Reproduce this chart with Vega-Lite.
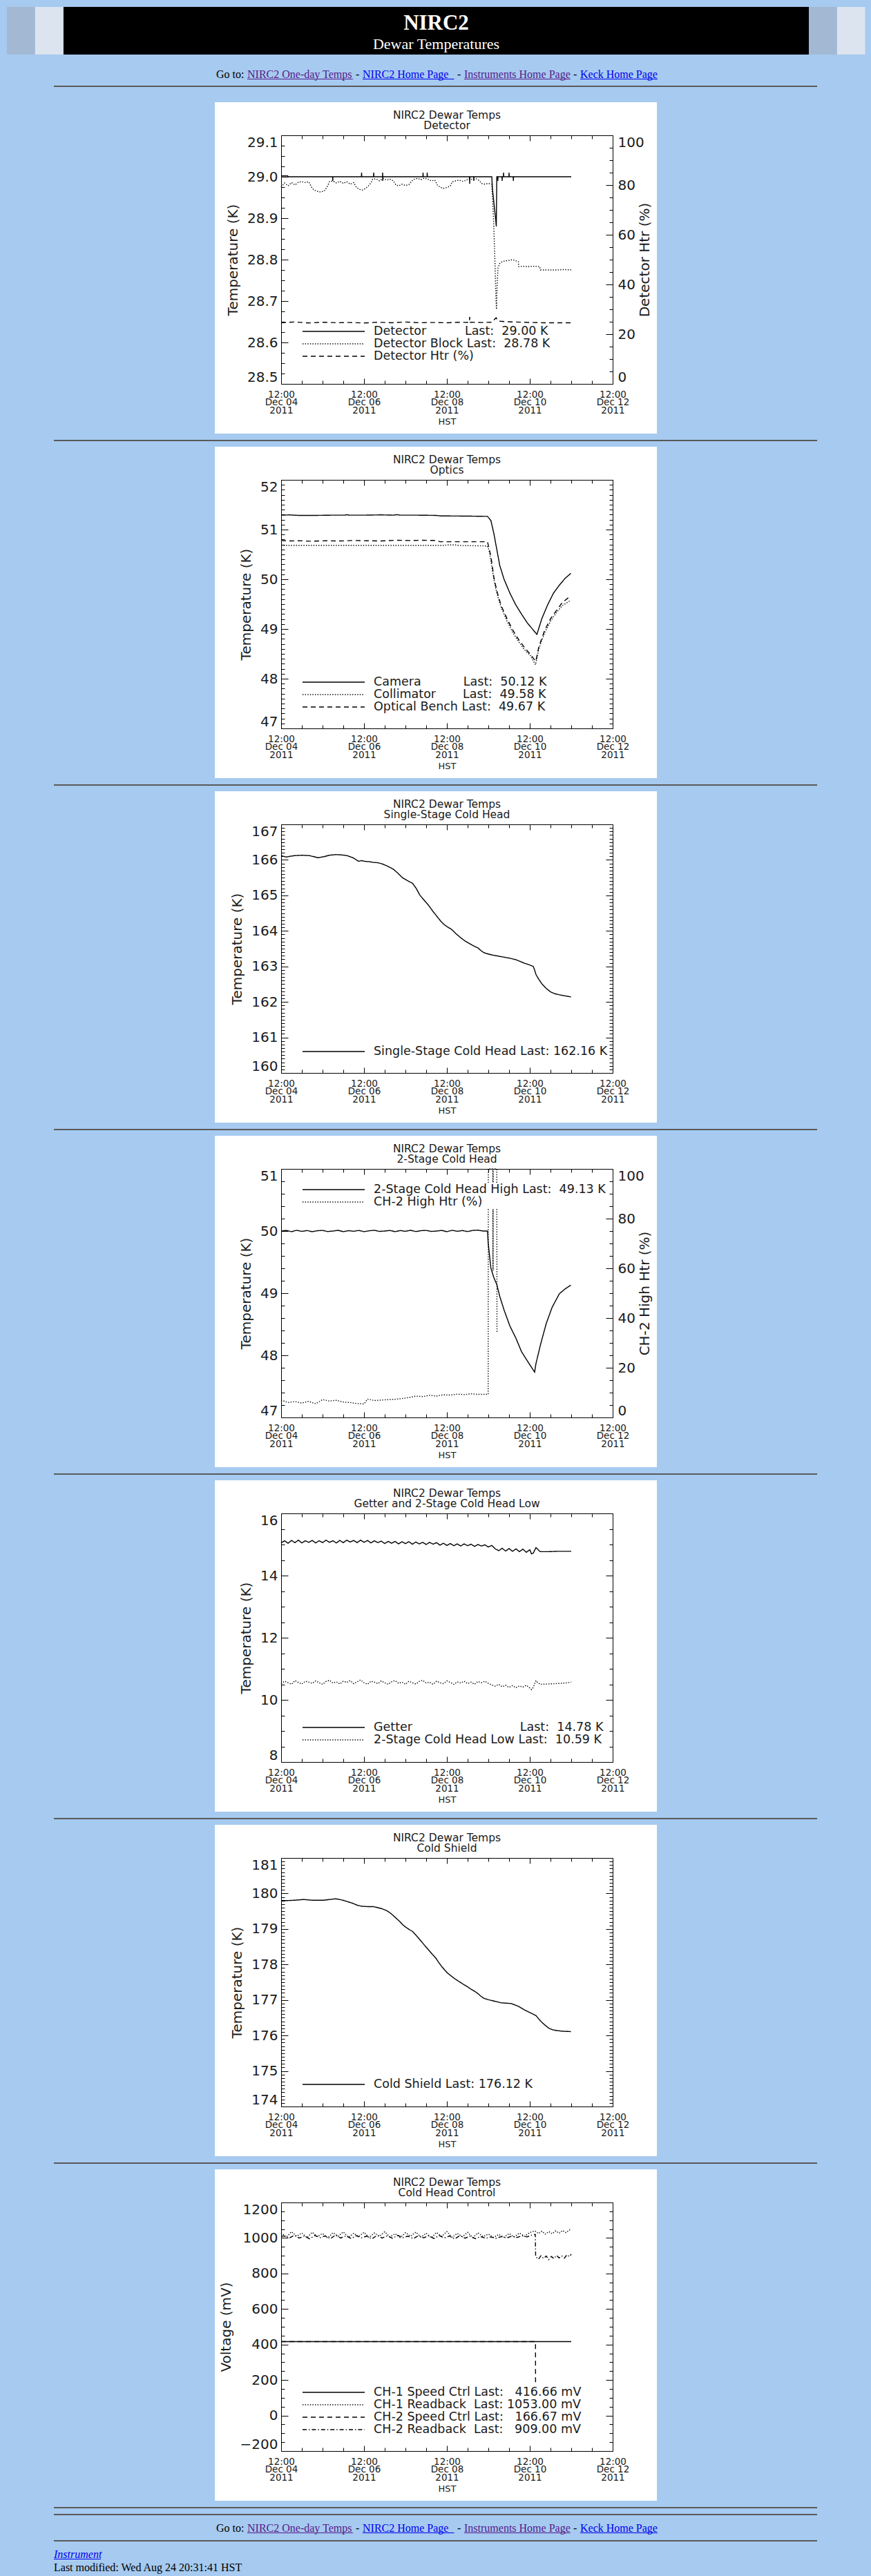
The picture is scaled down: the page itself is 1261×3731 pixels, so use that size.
{
"$schema":"https://vega.github.io/schema/vega-lite/v6.json",
"padding":{"left":10,"right":10,"top":10,"bottom":0},
"bounds":"flush","spacing":0,
"resolve":{"scale":{"strokeDash":"independent"},"legend":{"strokeDash":"independent"}},
"vconcat":[
{"hconcat":[
 {"width":40.5,"height":69,"view":{"fill":"#a3b9d3"},"data":{"values":[]},"mark":"point"},
 {"width":40.5,"height":69,"view":{"fill":"#dbe4ef"},"data":{"values":[]},"mark":"point"},
 {"width":1079,"height":69,"view":{"fill":"black"},"title":{"text":"NIRC2","subtitle":"Dewar Temperatures","font":"Liberation Serif","fontSize":31,"fontWeight":"bold","color":"white","subtitleFont":"Liberation Serif","subtitleFontSize":22,"subtitleColor":"white","subtitlePadding":4,"offset":-66,"dx":0,"anchor":"middle"},"data":{"values":[]},"mark":"point"},
 {"width":40.5,"height":69,"view":{"fill":"#a3b9d3"},"data":{"values":[]},"mark":"point"},
 {"width":40.5,"height":69,"view":{"fill":"#dbe4ef"},"data":{"values":[]},"mark":"point"}
],"spacing":0,"bounds":"flush"},
{"width":1,"height":104,"data":{"values":[]},"mark":"point"},
{"hconcat":[
 {"width":303,"height":1,"data":{"values":[]},"mark":"point"},
 {"width":44.4,"height":1,"title":{"text":"Go to:","anchor":"start","font":"Liberation Serif","fontSize":16,"color":"black","offset":-1.5,"dx":0},"data":{"values":[]},"mark":"point"},
 {"width":152.9,"height":1,"view":{"fill":"#551A8B"},"title":{"text":"NIRC2 One-day Temps","anchor":"start","font":"Liberation Serif","fontSize":16,"color":"#551A8B","offset":-1.5,"dx":0},"data":{"values":[]},"mark":"point"},
 {"width":13.3,"height":1,"title":{"text":"-","anchor":"middle","font":"Liberation Serif","fontSize":16,"color":"black","offset":-1.5,"dx":0},"data":{"values":[]},"mark":"point"},
 {"width":132.4,"height":1,"view":{"fill":"#0000EE"},"title":{"text":"NIRC2 Home Page","anchor":"start","font":"Liberation Serif","fontSize":16,"color":"#0000EE","offset":-1.5,"dx":0},"data":{"values":[]},"mark":"point"},
 {"width":13.3,"height":1,"title":{"text":"-","anchor":"middle","font":"Liberation Serif","fontSize":16,"color":"black","offset":-1.5,"dx":0},"data":{"values":[]},"mark":"point"},
 {"width":153.8,"height":1,"view":{"fill":"#551A8B"},"title":{"text":"Instruments Home Page","anchor":"start","font":"Liberation Serif","fontSize":16,"color":"#551A8B","offset":-1.5,"dx":0},"data":{"values":[]},"mark":"point"},
 {"width":13.3,"height":1,"title":{"text":"-","anchor":"middle","font":"Liberation Serif","fontSize":16,"color":"black","offset":-1.5,"dx":0},"data":{"values":[]},"mark":"point"},
 {"width":112,"height":1,"view":{"fill":"#0000EE"},"title":{"text":"Keck Home Page","anchor":"start","font":"Liberation Serif","fontSize":16,"color":"#0000EE","offset":-1.5,"dx":0},"data":{"values":[]},"mark":"point"}
],"spacing":0,"bounds":"flush"},
{"width":1,"height":10,"data":{"values":[]},"mark":"point"},
{"hconcat":[{"width":68,"height":2,"data":{"values":[]},"mark":"point"},{"width":1105,"height":2,"view":{"fill":"#5a5a5a"},"data":{"values":[]},"mark":"point"}],"spacing":0,"bounds":"flush"},
{"width":1,"height":24,"data":{"values":[]},"mark":"point"},

{"hconcat":[{"width":300.5,"height":480,"data":{"values":[]},"mark":"point"},
{"width":640,"height":480,"view":{"fill":"white"},
 "title":{"text":["NIRC2 Dewar Temps","Detector"]},
 "resolve":{"scale":{"y":"independent"},"axis":{"x":"independent","y":"independent"}},
 "layer":[
  {"data":{"values":[{"h":0,"v":29.002},{"h":4,"v":29.002},{"h":4.1,"v":29.0},{"h":29.8,"v":29.0},{"h":29.9,"v":28.99},{"h":30,"v":29.0},{"h":46.5,"v":29.0},{"h":46.6,"v":29.01},{"h":46.7,"v":29.0},{"h":53.5,"v":29.0},{"h":53.6,"v":29.01},{"h":53.7,"v":29.0},{"h":58.7,"v":29.0},{"h":58.8,"v":29.01},{"h":58.85,"v":28.99},{"h":58.9,"v":29.0},{"h":82.1,"v":29.0},{"h":82.2,"v":29.01},{"h":82.3,"v":29.0},{"h":84.5,"v":29.0},{"h":84.6,"v":29.01},{"h":84.7,"v":29.0},{"h":109.1,"v":29.0},{"h":109.2,"v":28.983},{"h":109.3,"v":29.0},{"h":111.5,"v":29.0},{"h":111.6,"v":28.99},{"h":111.7,"v":29.0},{"h":122,"v":29.0},{"h":122.4,"v":28.97},{"h":123.4,"v":28.93},{"h":124.3,"v":28.895},{"h":124.6,"v":28.88},{"h":124.9,"v":29.0},{"h":125.4,"v":29.0},{"h":125.5,"v":28.99},{"h":125.6,"v":29.0},{"h":127.9,"v":29.0},{"h":128,"v":28.99},{"h":128.1,"v":29.0},{"h":128.7,"v":29.0},{"h":128.8,"v":29.01},{"h":128.9,"v":29.0},{"h":131.9,"v":29.0},{"h":132,"v":29.01},{"h":132.1,"v":29.0},{"h":134.4,"v":29.0},{"h":134.5,"v":28.99},{"h":134.6,"v":29.0},{"h":168,"v":29.0}]},
   "mark":"line",
   "encoding":{
    "x":{"field":"h","type":"quantitative","scale":{"domain":[0,192],"range":[96,576],"nice":false},"axis":{"orient":"bottom","values":[0,48,96,144,192],"tickSize":-8,"labelPadding":16,"labelFontSize":13.5,"labelLineHeight":11.5,"labelFlush":false,"labelExpr":"['12:00', 'Dec ' + (datum.value < 144 ? '0' : '') + (4 + datum.value / 24), '2011']","title":"HST","titleFontSize":13,"titlePadding":4}},
    "y":{"field":"v","type":"quantitative","scale":{"domain":[28.5,29.1],"range":[408,48],"nice":false,"zero":false},"axis":{"orient":"left","values":[28.5,28.6,28.7,28.8,28.9,29.0,29.1],"format":".1f","tickSize":-10,"labelPadding":15,"labelFontSize":20,"labelFlush":true,"title":"Temperature (K)","titleFontSize":20,"titlePadding":10}},
    "strokeDash":{"datum":"Detector\u00a0\u00a0\u00a0\u00a0\u00a0\u00a0\u00a0\u00a0\u00a0\u00a0Last:\u00a0\u00a029.00 K","scale":{"domain":["Detector\u00a0\u00a0\u00a0\u00a0\u00a0\u00a0\u00a0\u00a0\u00a0\u00a0Last:\u00a0\u00a029.00 K","Detector Block Last:\u00a0\u00a028.78 K","Detector Htr (%)"],"range":[[1,0],[1.4,2.2],[7,5]]},"legend":{"title":null,"legendY":322,"zindex":1}}
   }},
  {"data":{"values":[{"h":0,"v":28.975},{"h":2,"v":28.985},{"h":4,"v":28.978},{"h":6,"v":28.986},{"h":8,"v":28.98},{"h":10,"v":28.987},{"h":12,"v":28.988},{"h":14,"v":28.986},{"h":16,"v":28.988},{"h":17.6,"v":28.975},{"h":19,"v":28.968},{"h":21,"v":28.965},{"h":23,"v":28.963},{"h":25,"v":28.966},{"h":26.6,"v":28.975},{"h":28,"v":28.988},{"h":30,"v":28.99},{"h":32,"v":28.985},{"h":34,"v":28.989},{"h":36,"v":28.984},{"h":38,"v":28.988},{"h":40,"v":28.982},{"h":42,"v":28.986},{"h":43.5,"v":28.975},{"h":45,"v":28.97},{"h":47,"v":28.968},{"h":49,"v":28.972},{"h":50.5,"v":28.978},{"h":52,"v":28.985},{"h":53,"v":28.994},{"h":55,"v":28.995},{"h":57,"v":28.99},{"h":59,"v":28.996},{"h":61,"v":28.992},{"h":63,"v":28.994},{"h":65,"v":28.99},{"h":66.5,"v":28.98},{"h":68,"v":28.978},{"h":70,"v":28.982},{"h":72,"v":28.979},{"h":74,"v":28.981},{"h":75.8,"v":28.99},{"h":77,"v":28.994},{"h":79,"v":28.996},{"h":81,"v":28.993},{"h":83,"v":28.997},{"h":85,"v":28.994},{"h":87,"v":28.99},{"h":89,"v":28.992},{"h":90.5,"v":28.98},{"h":92,"v":28.975},{"h":94,"v":28.972},{"h":96,"v":28.974},{"h":98,"v":28.978},{"h":99,"v":28.988},{"h":101,"v":28.99},{"h":103,"v":28.992},{"h":105,"v":28.989},{"h":107,"v":28.991},{"h":109,"v":28.996},{"h":111,"v":28.993},{"h":113,"v":28.995},{"h":115,"v":28.99},{"h":116,"v":28.984},{"h":118,"v":28.982},{"h":120,"v":28.984},{"h":122,"v":28.982},{"h":123,"v":28.9},{"h":123.8,"v":28.8},{"h":124.4,"v":28.71},{"h":124.7,"v":28.68},{"h":125.1,"v":28.74},{"h":125.6,"v":28.78},{"h":126.5,"v":28.79},{"h":128,"v":28.795},{"h":130,"v":28.797},{"h":132,"v":28.798},{"h":134,"v":28.8},{"h":136,"v":28.797},{"h":137.4,"v":28.795},{"h":137.6,"v":28.783},{"h":140,"v":28.784},{"h":143,"v":28.783},{"h":146,"v":28.784},{"h":149.8,"v":28.783},{"h":150.2,"v":28.775},{"h":155,"v":28.775},{"h":160,"v":28.775},{"h":164,"v":28.776},{"h":168,"v":28.775}]},
   "mark":"line",
   "encoding":{
    "x":{"field":"h","type":"quantitative","scale":{"domain":[0,192],"range":[96,576],"nice":false},"axis":{"orient":"bottom","values":[12,24,36,60,72,84,108,120,132,156,168,180],"tickSize":-5,"labels":false,"domain":false,"title":null}},
    "y":{"field":"v","type":"quantitative","scale":{"domain":[28.5,29.1],"range":[408,48],"nice":false,"zero":false},"axis":{"orient":"left","values":[28.525,28.55,28.575,28.625,28.65,28.675,28.725,28.75,28.775,28.825,28.85,28.875,28.925,28.95,28.975,29.025,29.05,29.075],"tickSize":-5,"labels":false,"domain":false,"title":null}},
    "strokeDash":{"datum":"Detector Block Last:\u00a0\u00a028.78 K","scale":{"domain":["Detector\u00a0\u00a0\u00a0\u00a0\u00a0\u00a0\u00a0\u00a0\u00a0\u00a0Last:\u00a0\u00a029.00 K","Detector Block Last:\u00a0\u00a028.78 K","Detector Htr (%)"],"range":[[1,0],[1.4,2.2],[7,5]]}}
   }},
  {"data":{"values":[{"h":0,"v":24.6},{"h":8,"v":24.9},{"h":16,"v":24.5},{"h":24,"v":24.8},{"h":32,"v":24.6},{"h":40,"v":24.7},{"h":48,"v":24.5},{"h":56,"v":24.8},{"h":64,"v":24.6},{"h":72,"v":24.9},{"h":80,"v":24.6},{"h":88,"v":24.7},{"h":96,"v":24.6},{"h":104,"v":24.8},{"h":109,"v":24.7},{"h":109.2,"v":26.9},{"h":109.5,"v":24.8},{"h":116,"v":24.7},{"h":122,"v":24.8},{"h":123.5,"v":25.9},{"h":124.5,"v":26.6},{"h":125.5,"v":25.4},{"h":127,"v":25.2},{"h":130,"v":25.0},{"h":136,"v":24.9},{"h":144,"v":24.7},{"h":152,"v":24.6},{"h":160,"v":24.6},{"h":168,"v":24.6}]},
   "mark":"line",
   "encoding":{
    "x":{"field":"h","type":"quantitative","scale":{"domain":[0,192],"range":[96,576],"nice":false},"axis":{"orient":"top","values":[0,48,96,144,192],"tickSize":-8,"labels":false,"title":null}},
    "y":{"field":"v","type":"quantitative","scale":{"domain":[0,100],"range":[408,48],"nice":false,"zero":false},"axis":{"orient":"right","values":[0,20,40,60,80,100],"format":"d","tickSize":-10,"labelPadding":17,"labelFontSize":20,"labelFlush":true,"title":"Detector Htr (%)","titleFontSize":20,"titlePadding":-9,"titleAngle":270,"titleBaseline":"top"}},
    "strokeDash":{"datum":"Detector Htr (%)","scale":{"domain":["Detector\u00a0\u00a0\u00a0\u00a0\u00a0\u00a0\u00a0\u00a0\u00a0\u00a0Last:\u00a0\u00a029.00 K","Detector Block Last:\u00a0\u00a028.78 K","Detector Htr (%)"],"range":[[1,0],[1.4,2.2],[7,5]]}}
   }},
  {"data":{"values":[]},"mark":"line",
   "encoding":{
    "x":{"field":"h","type":"quantitative","scale":{"domain":[0,192],"range":[96,576],"nice":false},"axis":{"orient":"top","values":[12,24,36,60,72,84,108,120,132,156,168,180],"tickSize":-5,"labels":false,"domain":false,"title":null}},
    "y":{"field":"v","type":"quantitative","scale":{"domain":[0,100],"range":[408,48],"nice":false,"zero":false},"axis":{"orient":"right","tickCount":20,"tickSize":-5,"labels":false,"domain":false,"title":null}}
   }}
 ]}],"spacing":0,"bounds":"flush","resolve":{"scale":{"strokeDash":"independent"},"legend":{"strokeDash":"independent"}}},

{"width":1,"height":488.5,"data":{"values":[]},"mark":"point"},
{"hconcat":[{"width":68,"height":2,"data":{"values":[]},"mark":"point"},{"width":1105,"height":2,"view":{"fill":"#5a5a5a"},"data":{"values":[]},"mark":"point"}],"spacing":0,"bounds":"flush"},
{"width":1,"height":10,"data":{"values":[]},"mark":"point"},

{"hconcat":[{"width":300.5,"height":480,"data":{"values":[]},"mark":"point"},
{"width":640,"height":480,"view":{"fill":"white"},
 "title":{"text":["NIRC2 Dewar Temps","Optics"]},
 "resolve":{"scale":{"y":"independent"},"axis":{"x":"independent","y":"independent"}},
 "layer":[
  {"data":{"values":[{"h":0,"v":51.29},{"h":5,"v":51.295},{"h":10,"v":51.285},{"h":20,"v":51.285},{"h":30,"v":51.29},{"h":37,"v":51.29},{"h":38,"v":51.3},{"h":39.5,"v":51.29},{"h":48,"v":51.29},{"h":58,"v":51.295},{"h":65,"v":51.29},{"h":67,"v":51.3},{"h":69,"v":51.29},{"h":78,"v":51.29},{"h":90,"v":51.285},{"h":92,"v":51.275},{"h":110,"v":51.27},{"h":119.5,"v":51.265},{"h":121.5,"v":51.18},{"h":123.2,"v":50.92},{"h":124.9,"v":50.6},{"h":126.6,"v":50.28},{"h":129.1,"v":50.0},{"h":132.5,"v":49.72},{"h":135.8,"v":49.49},{"h":139.2,"v":49.3},{"h":142.6,"v":49.12},{"h":146,"v":48.98},{"h":148.1,"v":48.89},{"h":151,"v":49.21},{"h":154.4,"v":49.49},{"h":157.7,"v":49.72},{"h":161.1,"v":49.88},{"h":164.5,"v":50.02},{"h":167.8,"v":50.12}]},
   "mark":"line",
   "encoding":{
    "x":{"field":"h","type":"quantitative","scale":{"domain":[0,192],"range":[96,576],"nice":false},"axis":{"orient":"bottom","values":[0,48,96,144,192],"tickSize":-8,"labelPadding":16,"labelFontSize":13.5,"labelLineHeight":11.5,"labelFlush":false,"labelExpr":"['12:00', 'Dec ' + (datum.value < 144 ? '0' : '') + (4 + datum.value / 24), '2011']","title":"HST","titleFontSize":13,"titlePadding":4}},
    "y":{"field":"v","type":"quantitative","scale":{"domain":[47,52],"range":[408,48],"nice":false,"zero":false},"axis":{"orient":"left","values":[47,48,49,50,51,52],"format":"d","tickSize":-10,"labelPadding":15,"labelFontSize":20,"labelFlush":true,"title":"Temperature (K)","titleFontSize":20,"titlePadding":10}},
    "strokeDash":{"datum":"Camera\u00a0\u00a0\u00a0\u00a0\u00a0\u00a0\u00a0\u00a0\u00a0\u00a0\u00a0Last:\u00a0\u00a050.12 K","scale":{"domain":["Camera\u00a0\u00a0\u00a0\u00a0\u00a0\u00a0\u00a0\u00a0\u00a0\u00a0\u00a0Last:\u00a0\u00a050.12 K","Collimator\u00a0\u00a0\u00a0\u00a0\u00a0\u00a0\u00a0Last:\u00a0\u00a049.58 K","Optical Bench Last:\u00a0\u00a049.67 K"],"range":[[1,0],[1.4,2.2],[7,5]]},"legend":{"title":null,"legendY":331,"zindex":1}}
   }},
  {"data":{"values":[{"h":0,"v":50.68},{"h":30,"v":50.68},{"h":60,"v":50.68},{"h":94,"v":50.68},{"h":96,"v":50.69},{"h":101,"v":50.69},{"h":103,"v":50.68},{"h":119.3,"v":50.67},{"h":120.3,"v":50.6},{"h":121.5,"v":50.37},{"h":123.2,"v":50.0},{"h":124.9,"v":49.72},{"h":127.4,"v":49.44},{"h":130.8,"v":49.16},{"h":134.1,"v":48.93},{"h":137.5,"v":48.75},{"h":140.9,"v":48.58},{"h":144.3,"v":48.47},{"h":146.8,"v":48.31},{"h":147.3,"v":48.28},{"h":149.3,"v":48.61},{"h":152.7,"v":48.93},{"h":156.1,"v":49.16},{"h":159.4,"v":49.33},{"h":162.8,"v":49.47},{"h":167.8,"v":49.58}]},
   "mark":"line",
   "encoding":{
    "x":{"field":"h","type":"quantitative","scale":{"domain":[0,192],"range":[96,576],"nice":false},"axis":{"orient":"bottom","values":[12,24,36,60,72,84,108,120,132,156,168,180],"tickSize":-5,"labels":false,"domain":false,"title":null}},
    "y":{"field":"v","type":"quantitative","scale":{"domain":[47,52],"range":[408,48],"nice":false,"zero":false},"axis":{"orient":"left","tickCount":50,"tickSize":-5,"labels":false,"domain":false,"title":null}},
    "strokeDash":{"datum":"Collimator\u00a0\u00a0\u00a0\u00a0\u00a0\u00a0\u00a0Last:\u00a0\u00a049.58 K","scale":{"domain":["Camera\u00a0\u00a0\u00a0\u00a0\u00a0\u00a0\u00a0\u00a0\u00a0\u00a0\u00a0Last:\u00a0\u00a050.12 K","Collimator\u00a0\u00a0\u00a0\u00a0\u00a0\u00a0\u00a0Last:\u00a0\u00a049.58 K","Optical Bench Last:\u00a0\u00a049.67 K"],"range":[[1,0],[1.4,2.2],[7,5]]}}
   }},
  {"data":{"values":[{"h":0,"v":50.78},{"h":5,"v":50.77},{"h":10,"v":50.775},{"h":18,"v":50.765},{"h":26,"v":50.775},{"h":34,"v":50.77},{"h":42,"v":50.78},{"h":50,"v":50.775},{"h":58,"v":50.77},{"h":66,"v":50.785},{"h":74,"v":50.78},{"h":82,"v":50.785},{"h":90,"v":50.78},{"h":92,"v":50.755},{"h":105,"v":50.755},{"h":119.5,"v":50.755},{"h":121.5,"v":50.46},{"h":123.2,"v":50.04},{"h":124.9,"v":49.77},{"h":127.4,"v":49.47},{"h":130.8,"v":49.21},{"h":134.1,"v":48.98},{"h":137.5,"v":48.79},{"h":140.9,"v":48.63},{"h":144.3,"v":48.49},{"h":146.8,"v":48.38},{"h":147.5,"v":48.35},{"h":149.3,"v":48.65},{"h":152.7,"v":48.98},{"h":156.1,"v":49.21},{"h":159.4,"v":49.37},{"h":162.8,"v":49.53},{"h":167.8,"v":49.67}]},
   "mark":"line",
   "encoding":{
    "x":{"field":"h","type":"quantitative","scale":{"domain":[0,192],"range":[96,576],"nice":false},"axis":{"orient":"top","values":[0,48,96,144,192],"tickSize":-8,"labels":false,"title":null}},
    "y":{"field":"v","type":"quantitative","scale":{"domain":[47,52],"range":[408,48],"nice":false,"zero":false},"axis":{"orient":"right","values":[47,48,49,50,51,52],"tickSize":-10,"labels":false,"title":null}},
    "strokeDash":{"datum":"Optical Bench Last:\u00a0\u00a049.67 K","scale":{"domain":["Camera\u00a0\u00a0\u00a0\u00a0\u00a0\u00a0\u00a0\u00a0\u00a0\u00a0\u00a0Last:\u00a0\u00a050.12 K","Collimator\u00a0\u00a0\u00a0\u00a0\u00a0\u00a0\u00a0Last:\u00a0\u00a049.58 K","Optical Bench Last:\u00a0\u00a049.67 K"],"range":[[1,0],[1.4,2.2],[7,5]]}}
   }},
  {"data":{"values":[]},"mark":"line",
   "encoding":{
    "x":{"field":"h","type":"quantitative","scale":{"domain":[0,192],"range":[96,576],"nice":false},"axis":{"orient":"top","values":[12,24,36,60,72,84,108,120,132,156,168,180],"tickSize":-5,"labels":false,"domain":false,"title":null}},
    "y":{"field":"v","type":"quantitative","scale":{"domain":[47,52],"range":[408,48],"nice":false,"zero":false},"axis":{"orient":"right","tickCount":50,"tickSize":-5,"labels":false,"domain":false,"title":null}}
   }}
 ]}],"spacing":0,"bounds":"flush","resolve":{"scale":{"strokeDash":"independent"},"legend":{"strokeDash":"independent"}}},

{"width":1,"height":488.5,"data":{"values":[]},"mark":"point"},
{"hconcat":[{"width":68,"height":2,"data":{"values":[]},"mark":"point"},{"width":1105,"height":2,"view":{"fill":"#5a5a5a"},"data":{"values":[]},"mark":"point"}],"spacing":0,"bounds":"flush"},
{"width":1,"height":10,"data":{"values":[]},"mark":"point"},

{"hconcat":[{"width":300.5,"height":480,"data":{"values":[]},"mark":"point"},
{"width":640,"height":480,"view":{"fill":"white"},
 "title":{"text":["NIRC2 Dewar Temps","Single-Stage Cold Head"]},
 "resolve":{"scale":{"y":"independent"},"axis":{"x":"independent","y":"independent"}},
 "layer":[
  {"data":{"values":[{"h":0,"v":166.12},{"h":2.9,"v":166.08},{"h":5,"v":166.1},{"h":7.9,"v":166.12},{"h":12,"v":166.13},{"h":16.3,"v":166.12},{"h":19,"v":166.09},{"h":21.4,"v":166.06},{"h":24.7,"v":166.09},{"h":28,"v":166.13},{"h":31.5,"v":166.15},{"h":35,"v":166.14},{"h":38.2,"v":166.12},{"h":41.6,"v":166.06},{"h":44.9,"v":165.96},{"h":46.5,"v":165.98},{"h":48.3,"v":165.96},{"h":51,"v":165.95},{"h":53.4,"v":165.93},{"h":56,"v":165.92},{"h":58.4,"v":165.89},{"h":61.8,"v":165.82},{"h":65.2,"v":165.73},{"h":67.7,"v":165.62},{"h":70.2,"v":165.5},{"h":73,"v":165.42},{"h":76.1,"v":165.34},{"h":78.2,"v":165.2},{"h":80.3,"v":165.01},{"h":82.9,"v":164.86},{"h":85.4,"v":164.72},{"h":87.9,"v":164.55},{"h":90.4,"v":164.4},{"h":92.5,"v":164.27},{"h":94.6,"v":164.17},{"h":96.7,"v":164.1},{"h":98.8,"v":164.04},{"h":101.3,"v":163.92},{"h":103.9,"v":163.81},{"h":106.4,"v":163.72},{"h":108.9,"v":163.65},{"h":111.4,"v":163.58},{"h":114,"v":163.52},{"h":115.6,"v":163.45},{"h":117.3,"v":163.39},{"h":119.8,"v":163.35},{"h":122.4,"v":163.32},{"h":125.7,"v":163.29},{"h":129.1,"v":163.26},{"h":132.5,"v":163.23},{"h":135.9,"v":163.19},{"h":138.4,"v":163.14},{"h":140.9,"v":163.09},{"h":143.4,"v":163.05},{"h":146,"v":163.0},{"h":146.8,"v":162.9},{"h":147.6,"v":162.77},{"h":149.3,"v":162.63},{"h":151,"v":162.51},{"h":153.5,"v":162.38},{"h":156.1,"v":162.28},{"h":158.6,"v":162.23},{"h":161.1,"v":162.2},{"h":164.5,"v":162.17},{"h":167.8,"v":162.14}]},
   "mark":"line",
   "encoding":{
    "x":{"field":"h","type":"quantitative","scale":{"domain":[0,192],"range":[96,576],"nice":false},"axis":{"orient":"bottom","values":[0,48,96,144,192],"tickSize":-8,"labelPadding":16,"labelFontSize":13.5,"labelLineHeight":11.5,"labelFlush":false,"labelExpr":"['12:00', 'Dec ' + (datum.value < 144 ? '0' : '') + (4 + datum.value / 24), '2011']","title":"HST","titleFontSize":13,"titlePadding":4}},
    "y":{"field":"v","type":"quantitative","scale":{"domain":[160,167],"range":[408,48],"nice":false,"zero":false},"axis":{"orient":"left","values":[160,161,162,163,164,165,166,167],"format":"d","tickSize":-10,"labelPadding":15,"labelFontSize":20,"labelFlush":true,"title":"Temperature (K)","titleFontSize":20,"titlePadding":10}},
    "strokeDash":{"datum":"Single-Stage Cold Head Last: 162.16 K","scale":{"domain":["Single-Stage Cold Head Last: 162.16 K"],"range":[[1,0]]},"legend":{"title":null,"legendY":367,"zindex":1}}
   }},
  {"data":{"values":[]},"mark":"line",
   "encoding":{
    "x":{"field":"h","type":"quantitative","scale":{"domain":[0,192],"range":[96,576],"nice":false},"axis":{"orient":"bottom","values":[12,24,36,60,72,84,108,120,132,156,168,180],"tickSize":-5,"labels":false,"domain":false,"title":null}},
    "y":{"field":"v","type":"quantitative","scale":{"domain":[160,167],"range":[408,48],"nice":false,"zero":false},"axis":{"orient":"left","tickCount":70,"tickSize":-5,"labels":false,"domain":false,"title":null}}
   }},
  {"data":{"values":[]},"mark":"line",
   "encoding":{
    "x":{"field":"h","type":"quantitative","scale":{"domain":[0,192],"range":[96,576],"nice":false},"axis":{"orient":"top","values":[0,48,96,144,192],"tickSize":-8,"labels":false,"title":null}},
    "y":{"field":"v","type":"quantitative","scale":{"domain":[160,167],"range":[408,48],"nice":false,"zero":false},"axis":{"orient":"right","values":[160,161,162,163,164,165,166,167],"tickSize":-10,"labels":false,"title":null}}
   }},
  {"data":{"values":[]},"mark":"line",
   "encoding":{
    "x":{"field":"h","type":"quantitative","scale":{"domain":[0,192],"range":[96,576],"nice":false},"axis":{"orient":"top","values":[12,24,36,60,72,84,108,120,132,156,168,180],"tickSize":-5,"labels":false,"domain":false,"title":null}},
    "y":{"field":"v","type":"quantitative","scale":{"domain":[160,167],"range":[408,48],"nice":false,"zero":false},"axis":{"orient":"right","tickCount":70,"tickSize":-5,"labels":false,"domain":false,"title":null}}
   }}
 ]}],"spacing":0,"bounds":"flush","resolve":{"scale":{"strokeDash":"independent"},"legend":{"strokeDash":"independent"}}},

{"width":1,"height":488.5,"data":{"values":[]},"mark":"point"},
{"hconcat":[{"width":68,"height":2,"data":{"values":[]},"mark":"point"},{"width":1105,"height":2,"view":{"fill":"#5a5a5a"},"data":{"values":[]},"mark":"point"}],"spacing":0,"bounds":"flush"},
{"width":1,"height":10,"data":{"values":[]},"mark":"point"},

{"hconcat":[{"width":300.5,"height":480,"data":{"values":[]},"mark":"point"},
{"width":640,"height":480,"view":{"fill":"white"},
 "title":{"text":["NIRC2 Dewar Temps","2-Stage Cold Head"]},
 "resolve":{"scale":{"y":"independent"},"axis":{"x":"independent","y":"independent"}},
 "layer":[
  {"data":{"values":[{"h":0,"v":50.0},{"h":3,"v":50.01},{"h":6,"v":49.99},{"h":9,"v":50.012},{"h":12,"v":49.995},{"h":15,"v":50.008},{"h":18,"v":49.99},{"h":21,"v":50.005},{"h":24,"v":50.01},{"h":27,"v":49.992},{"h":30,"v":50.0},{"h":33,"v":50.012},{"h":36,"v":49.99},{"h":39,"v":50.006},{"h":42,"v":49.996},{"h":45,"v":50.01},{"h":48,"v":49.99},{"h":51,"v":50.004},{"h":54,"v":50.012},{"h":57,"v":49.994},{"h":60,"v":50.0},{"h":63,"v":50.01},{"h":66,"v":49.99},{"h":69,"v":50.008},{"h":72,"v":49.996},{"h":75,"v":50.012},{"h":78,"v":49.992},{"h":81,"v":50.006},{"h":84,"v":50.01},{"h":87,"v":49.994},{"h":90,"v":50.0},{"h":93,"v":50.01},{"h":96,"v":49.99},{"h":99,"v":50.012},{"h":102,"v":49.996},{"h":105,"v":50.008},{"h":108,"v":49.992},{"h":111,"v":50.01},{"h":114,"v":50.014},{"h":117,"v":50.0},{"h":119.5,"v":50.0},{"h":119.9,"v":49.81},{"h":121.5,"v":49.4},{"h":123.2,"v":49.25},{"h":124.9,"v":49.14},{"h":126.6,"v":48.95},{"h":129.1,"v":48.73},{"h":132.5,"v":48.47},{"h":135.9,"v":48.28},{"h":139.2,"v":48.06},{"h":142.6,"v":47.91},{"h":146.8,"v":47.73},{"h":147.6,"v":47.87},{"h":150.2,"v":48.17},{"h":153.5,"v":48.51},{"h":156.9,"v":48.77},{"h":161.1,"v":48.99},{"h":164.5,"v":49.07},{"h":167.8,"v":49.13}]},
   "mark":"line",
   "encoding":{
    "x":{"field":"h","type":"quantitative","scale":{"domain":[0,192],"range":[96,576],"nice":false},"axis":{"orient":"bottom","values":[0,48,96,144,192],"tickSize":-8,"labelPadding":16,"labelFontSize":13.5,"labelLineHeight":11.5,"labelFlush":false,"labelExpr":"['12:00', 'Dec ' + (datum.value < 144 ? '0' : '') + (4 + datum.value / 24), '2011']","title":"HST","titleFontSize":13,"titlePadding":4}},
    "y":{"field":"v","type":"quantitative","scale":{"domain":[47,51],"range":[408,48],"nice":false,"zero":false},"axis":{"orient":"left","values":[47,48,49,50,51],"format":"d","tickSize":-10,"labelPadding":15,"labelFontSize":20,"labelFlush":true,"title":"Temperature (K)","titleFontSize":20,"titlePadding":10}},
    "strokeDash":{"datum":"2-Stage Cold Head High Last:\u00a0\u00a049.13 K","scale":{"domain":["2-Stage Cold Head High Last:\u00a0\u00a049.13 K","CH-2 High Htr (%)"],"range":[[1,0],[1.4,2.2]]},"legend":{"title":null,"legendY":68,"zindex":1}}
   }},
  {"data":{"values":[]},"mark":"line",
   "encoding":{
    "x":{"field":"h","type":"quantitative","scale":{"domain":[0,192],"range":[96,576],"nice":false},"axis":{"orient":"bottom","values":[12,24,36,60,72,84,108,120,132,156,168,180],"tickSize":-5,"labels":false,"domain":false,"title":null}},
    "y":{"field":"v","type":"quantitative","scale":{"domain":[47,51],"range":[408,48],"nice":false,"zero":false},"axis":{"orient":"left","tickCount":20,"tickSize":-5,"labels":false,"domain":false,"title":null}}
   }},
  {"data":{"values":[{"h":0,"v":7.0},{"h":4,"v":6.0},{"h":8,"v":6.4},{"h":12,"v":5.8},{"h":16,"v":6.5},{"h":20,"v":5.5},{"h":24,"v":7.2},{"h":28,"v":6.6},{"h":32,"v":6.9},{"h":36,"v":6.2},{"h":40,"v":6.0},{"h":44,"v":5.6},{"h":48,"v":5.4},{"h":50,"v":7.4},{"h":54,"v":6.8},{"h":58,"v":7.0},{"h":62,"v":7.2},{"h":66,"v":7.3},{"h":70,"v":7.6},{"h":74,"v":8.0},{"h":78,"v":8.6},{"h":82,"v":8.4},{"h":86,"v":8.9},{"h":90,"v":8.6},{"h":94,"v":9.1},{"h":98,"v":9.0},{"h":102,"v":9.4},{"h":106,"v":9.2},{"h":110,"v":9.5},{"h":114,"v":9.3},{"h":119.9,"v":9.3},{"h":120,"v":100},{"h":122.6,"v":100},{"h":122.7,"v":59},{"h":122.8,"v":100},{"h":124.9,"v":100},{"h":125,"v":34}]},
   "mark":"line",
   "encoding":{
    "x":{"field":"h","type":"quantitative","scale":{"domain":[0,192],"range":[96,576],"nice":false},"axis":{"orient":"top","values":[0,48,96,144,192],"tickSize":-8,"labels":false,"title":null}},
    "y":{"field":"v","type":"quantitative","scale":{"domain":[0,100],"range":[408,48],"nice":false,"zero":false},"axis":{"orient":"right","values":[0,20,40,60,80,100],"format":"d","tickSize":-10,"labelPadding":17,"labelFontSize":20,"labelFlush":true,"title":"CH-2 High Htr (%)","titleFontSize":20,"titlePadding":-9,"titleAngle":270,"titleBaseline":"top"}},
    "strokeDash":{"datum":"CH-2 High Htr (%)","scale":{"domain":["2-Stage Cold Head High Last:\u00a0\u00a049.13 K","CH-2 High Htr (%)"],"range":[[1,0],[1.4,2.2]]}}
   }},
  {"data":{"values":[]},"mark":"line",
   "encoding":{
    "x":{"field":"h","type":"quantitative","scale":{"domain":[0,192],"range":[96,576],"nice":false},"axis":{"orient":"top","values":[12,24,36,60,72,84,108,120,132,156,168,180],"tickSize":-5,"labels":false,"domain":false,"title":null}},
    "y":{"field":"v","type":"quantitative","scale":{"domain":[0,100],"range":[408,48],"nice":false,"zero":false},"axis":{"orient":"right","tickCount":20,"tickSize":-5,"labels":false,"domain":false,"title":null}}
   }}
 ]}],"spacing":0,"bounds":"flush","resolve":{"scale":{"strokeDash":"independent"},"legend":{"strokeDash":"independent"}}},

{"width":1,"height":488.5,"data":{"values":[]},"mark":"point"},
{"hconcat":[{"width":68,"height":2,"data":{"values":[]},"mark":"point"},{"width":1105,"height":2,"view":{"fill":"#5a5a5a"},"data":{"values":[]},"mark":"point"}],"spacing":0,"bounds":"flush"},
{"width":1,"height":10,"data":{"values":[]},"mark":"point"},

{"hconcat":[{"width":300.5,"height":480,"data":{"values":[]},"mark":"point"},
{"width":640,"height":480,"view":{"fill":"white"},
 "title":{"text":["NIRC2 Dewar Temps","Getter and 2-Stage Cold Head Low"]},
 "resolve":{"scale":{"y":"independent"},"axis":{"x":"independent","y":"independent"}},
 "layer":[
  {"data":{"values":[{"h":0,"v":15.05},{"h":2,"v":15.12},{"h":4,"v":15.04},{"h":6,"v":15.13},{"h":8,"v":15.06},{"h":10,"v":15.14},{"h":12,"v":15.05},{"h":14,"v":15.12},{"h":16,"v":15.07},{"h":18,"v":15.13},{"h":20,"v":15.05},{"h":22,"v":15.12},{"h":24,"v":15.06},{"h":26,"v":15.14},{"h":28,"v":15.07},{"h":30,"v":15.12},{"h":32,"v":15.05},{"h":34,"v":15.13},{"h":36,"v":15.06},{"h":38,"v":15.14},{"h":40,"v":15.08},{"h":42,"v":15.13},{"h":44,"v":15.06},{"h":46,"v":15.14},{"h":48,"v":15.07},{"h":50,"v":15.13},{"h":52,"v":15.05},{"h":54,"v":15.12},{"h":56,"v":15.06},{"h":58,"v":15.11},{"h":60,"v":15.03},{"h":62,"v":15.1},{"h":64,"v":15.04},{"h":66,"v":15.1},{"h":68,"v":15.02},{"h":70,"v":15.09},{"h":72,"v":15.03},{"h":74,"v":15.09},{"h":76,"v":15.01},{"h":78,"v":15.08},{"h":80,"v":15.02},{"h":82,"v":15.07},{"h":84,"v":15.0},{"h":86,"v":15.07},{"h":88,"v":15.01},{"h":90,"v":15.06},{"h":92,"v":14.98},{"h":94,"v":15.04},{"h":96,"v":14.97},{"h":98,"v":15.03},{"h":100,"v":14.96},{"h":102,"v":15.02},{"h":104,"v":14.95},{"h":106,"v":15.02},{"h":108,"v":14.96},{"h":110,"v":15.01},{"h":112,"v":14.94},{"h":114,"v":15.0},{"h":116,"v":14.95},{"h":118,"v":14.99},{"h":120,"v":14.92},{"h":122,"v":14.97},{"h":124,"v":14.86},{"h":126,"v":14.8},{"h":128,"v":14.88},{"h":130,"v":14.79},{"h":132,"v":14.87},{"h":134,"v":14.78},{"h":136,"v":14.86},{"h":138,"v":14.77},{"h":140,"v":14.85},{"h":142,"v":14.75},{"h":144,"v":14.83},{"h":145,"v":14.7},{"h":146,"v":14.72},{"h":147.6,"v":14.9},{"h":148.5,"v":14.85},{"h":150,"v":14.77},{"h":155,"v":14.77},{"h":160,"v":14.78},{"h":168,"v":14.78}]},
   "mark":"line",
   "encoding":{
    "x":{"field":"h","type":"quantitative","scale":{"domain":[0,192],"range":[96,576],"nice":false},"axis":{"orient":"bottom","values":[0,48,96,144,192],"tickSize":-8,"labelPadding":16,"labelFontSize":13.5,"labelLineHeight":11.5,"labelFlush":false,"labelExpr":"['12:00', 'Dec ' + (datum.value < 144 ? '0' : '') + (4 + datum.value / 24), '2011']","title":"HST","titleFontSize":13,"titlePadding":4}},
    "y":{"field":"v","type":"quantitative","scale":{"domain":[8,16],"range":[408,48],"nice":false,"zero":false},"axis":{"orient":"left","values":[8,10,12,14,16],"format":"d","tickSize":-10,"labelPadding":15,"labelFontSize":20,"labelFlush":true,"title":"Temperature (K)","titleFontSize":20,"titlePadding":10}},
    "strokeDash":{"datum":"Getter\u00a0\u00a0\u00a0\u00a0\u00a0\u00a0\u00a0\u00a0\u00a0\u00a0\u00a0\u00a0\u00a0\u00a0\u00a0\u00a0\u00a0\u00a0\u00a0\u00a0\u00a0\u00a0\u00a0\u00a0\u00a0\u00a0\u00a0\u00a0Last:\u00a0\u00a014.78 K","scale":{"domain":["Getter\u00a0\u00a0\u00a0\u00a0\u00a0\u00a0\u00a0\u00a0\u00a0\u00a0\u00a0\u00a0\u00a0\u00a0\u00a0\u00a0\u00a0\u00a0\u00a0\u00a0\u00a0\u00a0\u00a0\u00a0\u00a0\u00a0\u00a0\u00a0Last:\u00a0\u00a014.78 K","2-Stage Cold Head Low Last:\u00a0\u00a010.59 K"],"range":[[1,0],[1.4,2.2]]},"legend":{"title":null,"legendY":348,"zindex":1}}
   }},
  {"data":{"values":[{"h":0,"v":10.52},{"h":2,"v":10.6},{"h":4,"v":10.55},{"h":6,"v":10.5},{"h":8,"v":10.62},{"h":10,"v":10.56},{"h":12,"v":10.51},{"h":14,"v":10.6},{"h":16,"v":10.57},{"h":18,"v":10.53},{"h":20,"v":10.61},{"h":22,"v":10.55},{"h":24,"v":10.5},{"h":26,"v":10.59},{"h":28,"v":10.63},{"h":30,"v":10.54},{"h":32,"v":10.58},{"h":34,"v":10.51},{"h":36,"v":10.6},{"h":38,"v":10.56},{"h":40,"v":10.62},{"h":42,"v":10.52},{"h":44,"v":10.58},{"h":46,"v":10.64},{"h":48,"v":10.55},{"h":50,"v":10.5},{"h":52,"v":10.6},{"h":54,"v":10.57},{"h":56,"v":10.52},{"h":58,"v":10.61},{"h":60,"v":10.55},{"h":62,"v":10.5},{"h":64,"v":10.58},{"h":66,"v":10.62},{"h":68,"v":10.53},{"h":70,"v":10.57},{"h":72,"v":10.5},{"h":74,"v":10.6},{"h":76,"v":10.55},{"h":78,"v":10.51},{"h":80,"v":10.59},{"h":82,"v":10.63},{"h":84,"v":10.54},{"h":86,"v":10.57},{"h":88,"v":10.5},{"h":90,"v":10.6},{"h":92,"v":10.55},{"h":94,"v":10.52},{"h":96,"v":10.61},{"h":98,"v":10.56},{"h":100,"v":10.5},{"h":102,"v":10.58},{"h":104,"v":10.54},{"h":106,"v":10.6},{"h":108,"v":10.52},{"h":110,"v":10.57},{"h":112,"v":10.5},{"h":114,"v":10.59},{"h":116,"v":10.55},{"h":118,"v":10.6},{"h":120,"v":10.53},{"h":122,"v":10.48},{"h":124,"v":10.44},{"h":126,"v":10.5},{"h":128,"v":10.42},{"h":130,"v":10.47},{"h":132,"v":10.4},{"h":134,"v":10.46},{"h":136,"v":10.39},{"h":138,"v":10.45},{"h":140,"v":10.41},{"h":142,"v":10.47},{"h":144,"v":10.38},{"h":145,"v":10.33},{"h":146,"v":10.4},{"h":147.6,"v":10.62},{"h":148.5,"v":10.56},{"h":150,"v":10.5},{"h":154,"v":10.51},{"h":158,"v":10.52},{"h":162,"v":10.53},{"h":166,"v":10.55},{"h":168,"v":10.57}]},
   "mark":"line",
   "encoding":{
    "x":{"field":"h","type":"quantitative","scale":{"domain":[0,192],"range":[96,576],"nice":false},"axis":{"orient":"bottom","values":[12,24,36,60,72,84,108,120,132,156,168,180],"tickSize":-5,"labels":false,"domain":false,"title":null}},
    "y":{"field":"v","type":"quantitative","scale":{"domain":[8,16],"range":[408,48],"nice":false,"zero":false},"axis":{"orient":"left","tickCount":16,"tickSize":-5,"labels":false,"domain":false,"title":null}},
    "strokeDash":{"datum":"2-Stage Cold Head Low Last:\u00a0\u00a010.59 K","scale":{"domain":["Getter\u00a0\u00a0\u00a0\u00a0\u00a0\u00a0\u00a0\u00a0\u00a0\u00a0\u00a0\u00a0\u00a0\u00a0\u00a0\u00a0\u00a0\u00a0\u00a0\u00a0\u00a0\u00a0\u00a0\u00a0\u00a0\u00a0\u00a0\u00a0Last:\u00a0\u00a014.78 K","2-Stage Cold Head Low Last:\u00a0\u00a010.59 K"],"range":[[1,0],[1.4,2.2]]}}
   }},
  {"data":{"values":[]},"mark":"line",
   "encoding":{
    "x":{"field":"h","type":"quantitative","scale":{"domain":[0,192],"range":[96,576],"nice":false},"axis":{"orient":"top","values":[0,48,96,144,192],"tickSize":-8,"labels":false,"title":null}},
    "y":{"field":"v","type":"quantitative","scale":{"domain":[8,16],"range":[408,48],"nice":false,"zero":false},"axis":{"orient":"right","values":[8,10,12,14,16],"tickSize":-10,"labels":false,"title":null}}
   }},
  {"data":{"values":[]},"mark":"line",
   "encoding":{
    "x":{"field":"h","type":"quantitative","scale":{"domain":[0,192],"range":[96,576],"nice":false},"axis":{"orient":"top","values":[12,24,36,60,72,84,108,120,132,156,168,180],"tickSize":-5,"labels":false,"domain":false,"title":null}},
    "y":{"field":"v","type":"quantitative","scale":{"domain":[8,16],"range":[408,48],"nice":false,"zero":false},"axis":{"orient":"right","tickCount":16,"tickSize":-5,"labels":false,"domain":false,"title":null}}
   }}
 ]}],"spacing":0,"bounds":"flush","resolve":{"scale":{"strokeDash":"independent"},"legend":{"strokeDash":"independent"}}},

{"width":1,"height":488.5,"data":{"values":[]},"mark":"point"},
{"hconcat":[{"width":68,"height":2,"data":{"values":[]},"mark":"point"},{"width":1105,"height":2,"view":{"fill":"#5a5a5a"},"data":{"values":[]},"mark":"point"}],"spacing":0,"bounds":"flush"},
{"width":1,"height":10,"data":{"values":[]},"mark":"point"},

{"hconcat":[{"width":300.5,"height":480,"data":{"values":[]},"mark":"point"},
{"width":640,"height":480,"view":{"fill":"white"},
 "title":{"text":["NIRC2 Dewar Temps","Cold Shield"]},
 "resolve":{"scale":{"y":"independent"},"axis":{"x":"independent","y":"independent"}},
 "layer":[
  {"data":{"values":[{"h":0,"v":179.8},{"h":4,"v":179.8},{"h":7.9,"v":179.81},{"h":13,"v":179.83},{"h":18,"v":179.81},{"h":24.7,"v":179.81},{"h":28,"v":179.83},{"h":31.5,"v":179.85},{"h":34,"v":179.83},{"h":36.5,"v":179.8},{"h":39,"v":179.76},{"h":41.6,"v":179.72},{"h":44,"v":179.67},{"h":46.6,"v":179.64},{"h":50,"v":179.63},{"h":53.4,"v":179.63},{"h":56,"v":179.6},{"h":58.4,"v":179.57},{"h":61,"v":179.52},{"h":63.5,"v":179.44},{"h":66,"v":179.33},{"h":68.5,"v":179.22},{"h":70.2,"v":179.13},{"h":71.9,"v":179.06},{"h":74,"v":178.99},{"h":76.1,"v":178.93},{"h":78.2,"v":178.82},{"h":80.3,"v":178.7},{"h":82.9,"v":178.55},{"h":85.4,"v":178.41},{"h":87.5,"v":178.29},{"h":89.6,"v":178.18},{"h":91.2,"v":178.06},{"h":92.9,"v":177.95},{"h":94.6,"v":177.85},{"h":96.3,"v":177.76},{"h":98.4,"v":177.68},{"h":100.5,"v":177.6},{"h":103,"v":177.52},{"h":105.6,"v":177.44},{"h":107.7,"v":177.38},{"h":109.8,"v":177.31},{"h":111.9,"v":177.25},{"h":114,"v":177.18},{"h":115.6,"v":177.11},{"h":117.3,"v":177.05},{"h":119.8,"v":177.01},{"h":122.4,"v":176.98},{"h":125,"v":176.95},{"h":127.4,"v":176.92},{"h":130.5,"v":176.91},{"h":133.3,"v":176.9},{"h":135.4,"v":176.86},{"h":137.5,"v":176.82},{"h":139.2,"v":176.77},{"h":140.9,"v":176.72},{"h":144.3,"v":176.64},{"h":147.6,"v":176.56},{"h":149.3,"v":176.46},{"h":151,"v":176.37},{"h":153.1,"v":176.28},{"h":155.2,"v":176.2},{"h":157.3,"v":176.16},{"h":159.4,"v":176.14},{"h":163,"v":176.12},{"h":167.8,"v":176.11}]},
   "mark":"line",
   "encoding":{
    "x":{"field":"h","type":"quantitative","scale":{"domain":[0,192],"range":[96,576],"nice":false},"axis":{"orient":"bottom","values":[0,48,96,144,192],"tickSize":-8,"labelPadding":16,"labelFontSize":13.5,"labelLineHeight":11.5,"labelFlush":false,"labelExpr":"['12:00', 'Dec ' + (datum.value < 144 ? '0' : '') + (4 + datum.value / 24), '2011']","title":"HST","titleFontSize":13,"titlePadding":4}},
    "y":{"field":"v","type":"quantitative","scale":{"domain":[174,181],"range":[408,48],"nice":false,"zero":false},"axis":{"orient":"left","values":[174,175,176,177,178,179,180,181],"format":"d","tickSize":-10,"labelPadding":15,"labelFontSize":20,"labelFlush":true,"title":"Temperature (K)","titleFontSize":20,"titlePadding":10}},
    "strokeDash":{"datum":"Cold Shield Last: 176.12 K","scale":{"domain":["Cold Shield Last: 176.12 K"],"range":[[1,0]]},"legend":{"title":null,"legendY":366,"zindex":1}}
   }},
  {"data":{"values":[]},"mark":"line",
   "encoding":{
    "x":{"field":"h","type":"quantitative","scale":{"domain":[0,192],"range":[96,576],"nice":false},"axis":{"orient":"bottom","values":[12,24,36,60,72,84,108,120,132,156,168,180],"tickSize":-5,"labels":false,"domain":false,"title":null}},
    "y":{"field":"v","type":"quantitative","scale":{"domain":[174,181],"range":[408,48],"nice":false,"zero":false},"axis":{"orient":"left","tickCount":70,"tickSize":-5,"labels":false,"domain":false,"title":null}}
   }},
  {"data":{"values":[]},"mark":"line",
   "encoding":{
    "x":{"field":"h","type":"quantitative","scale":{"domain":[0,192],"range":[96,576],"nice":false},"axis":{"orient":"top","values":[0,48,96,144,192],"tickSize":-8,"labels":false,"title":null}},
    "y":{"field":"v","type":"quantitative","scale":{"domain":[174,181],"range":[408,48],"nice":false,"zero":false},"axis":{"orient":"right","values":[174,175,176,177,178,179,180,181],"tickSize":-10,"labels":false,"title":null}}
   }},
  {"data":{"values":[]},"mark":"line",
   "encoding":{
    "x":{"field":"h","type":"quantitative","scale":{"domain":[0,192],"range":[96,576],"nice":false},"axis":{"orient":"top","values":[12,24,36,60,72,84,108,120,132,156,168,180],"tickSize":-5,"labels":false,"domain":false,"title":null}},
    "y":{"field":"v","type":"quantitative","scale":{"domain":[174,181],"range":[408,48],"nice":false,"zero":false},"axis":{"orient":"right","tickCount":70,"tickSize":-5,"labels":false,"domain":false,"title":null}}
   }}
 ]}],"spacing":0,"bounds":"flush","resolve":{"scale":{"strokeDash":"independent"},"legend":{"strokeDash":"independent"}}},

{"width":1,"height":488.5,"data":{"values":[]},"mark":"point"},
{"hconcat":[{"width":68,"height":2,"data":{"values":[]},"mark":"point"},{"width":1105,"height":2,"view":{"fill":"#5a5a5a"},"data":{"values":[]},"mark":"point"}],"spacing":0,"bounds":"flush"},
{"width":1,"height":10,"data":{"values":[]},"mark":"point"},

{"hconcat":[{"width":300.5,"height":480,"data":{"values":[]},"mark":"point"},
{"width":640,"height":480,"view":{"fill":"white"},
 "title":{"text":["NIRC2 Dewar Temps","Cold Head Control"]},
 "resolve":{"scale":{"y":"independent"},"axis":{"x":"independent","y":"independent"}},
 "layer":[
  {"data":{"values":[{"h":0,"v":416.66},{"h":168,"v":416.66}]},
   "mark":"line",
   "encoding":{
    "x":{"field":"h","type":"quantitative","scale":{"domain":[0,192],"range":[96,576],"nice":false},"axis":{"orient":"bottom","values":[0,48,96,144,192],"tickSize":-8,"labelPadding":16,"labelFontSize":13.5,"labelLineHeight":11.5,"labelFlush":false,"labelExpr":"['12:00', 'Dec ' + (datum.value < 144 ? '0' : '') + (4 + datum.value / 24), '2011']","title":"HST","titleFontSize":13,"titlePadding":4}},
    "y":{"field":"v","type":"quantitative","scale":{"domain":[-200,1200],"range":[408,48],"nice":false,"zero":false},"axis":{"orient":"left","values":[-200,0,200,400,600,800,1000,1200],"format":"d","tickSize":-10,"labelPadding":15,"labelFontSize":20,"labelFlush":true,"title":"Voltage (mV)","titleFontSize":20,"titlePadding":10}},
    "strokeDash":{"datum":"CH-1 Speed Ctrl Last:\u00a0\u00a0\u00a0416.66 mV","scale":{"domain":["CH-1 Speed Ctrl Last:\u00a0\u00a0\u00a0416.66 mV","CH-1 Readback\u00a0\u00a0Last:\u00a01053.00 mV","CH-2 Speed Ctrl Last:\u00a0\u00a0\u00a0166.67 mV","CH-2 Readback\u00a0\u00a0Last:\u00a0\u00a0\u00a0909.00 mV"],"range":[[1,0],[1.4,2.2],[7,5],[6,3,1.4,3]]},"legend":{"title":null,"legendY":313,"zindex":1}}
   }},
  {"data":{"values":[{"h":0,"v":1030},{"h":3,"v":1005},{"h":6,"v":1035},{"h":9,"v":1010},{"h":12,"v":1028},{"h":15,"v":1002},{"h":18,"v":1032},{"h":21,"v":1008},{"h":24,"v":1025},{"h":27,"v":1000},{"h":30,"v":1030},{"h":33,"v":1010},{"h":36,"v":1034},{"h":39,"v":1004},{"h":42,"v":1026},{"h":45,"v":1008},{"h":48,"v":1032},{"h":51,"v":1003},{"h":54,"v":1028},{"h":57,"v":1010},{"h":60,"v":1035},{"h":63,"v":1006},{"h":66,"v":1024},{"h":69,"v":1002},{"h":72,"v":1030},{"h":75,"v":1010},{"h":78,"v":1033},{"h":81,"v":1005},{"h":84,"v":1027},{"h":87,"v":1001},{"h":90,"v":1031},{"h":93,"v":1009},{"h":96,"v":1036},{"h":99,"v":1004},{"h":102,"v":1026},{"h":105,"v":1007},{"h":108,"v":1032},{"h":111,"v":1002},{"h":114,"v":1029},{"h":117,"v":1008},{"h":120,"v":1022},{"h":123,"v":1003},{"h":126,"v":1020},{"h":129,"v":1004},{"h":132,"v":1025},{"h":135,"v":1006},{"h":138,"v":1028},{"h":141,"v":1010},{"h":144,"v":1031},{"h":147,"v":1040},{"h":149,"v":1025},{"h":151,"v":1038},{"h":153,"v":1022},{"h":155,"v":1036},{"h":157,"v":1024},{"h":159,"v":1040},{"h":161,"v":1027},{"h":163,"v":1042},{"h":165,"v":1030},{"h":167,"v":1045},{"h":168,"v":1053}]},
   "mark":"line",
   "encoding":{
    "x":{"field":"h","type":"quantitative","scale":{"domain":[0,192],"range":[96,576],"nice":false},"axis":{"orient":"bottom","values":[12,24,36,60,72,84,108,120,132,156,168,180],"tickSize":-5,"labels":false,"domain":false,"title":null}},
    "y":{"field":"v","type":"quantitative","scale":{"domain":[-200,1200],"range":[408,48],"nice":false,"zero":false},"axis":{"orient":"left","tickCount":28,"tickSize":-5,"labels":false,"domain":false,"title":null}},
    "strokeDash":{"datum":"CH-1 Readback\u00a0\u00a0Last:\u00a01053.00 mV","scale":{"domain":["CH-1 Speed Ctrl Last:\u00a0\u00a0\u00a0416.66 mV","CH-1 Readback\u00a0\u00a0Last:\u00a01053.00 mV","CH-2 Speed Ctrl Last:\u00a0\u00a0\u00a0166.67 mV","CH-2 Readback\u00a0\u00a0Last:\u00a0\u00a0\u00a0909.00 mV"],"range":[[1,0],[1.4,2.2],[7,5],[6,3,1.4,3]]}}
   }},
  {"data":{"values":[{"h":0,"v":416.66},{"h":147.3,"v":416.66},{"h":147.35,"v":166.67},{"h":168,"v":166.67}]},
   "mark":"line",
   "encoding":{
    "x":{"field":"h","type":"quantitative","scale":{"domain":[0,192],"range":[96,576],"nice":false},"axis":{"orient":"top","values":[0,48,96,144,192],"tickSize":-8,"labels":false,"title":null}},
    "y":{"field":"v","type":"quantitative","scale":{"domain":[-200,1200],"range":[408,48],"nice":false,"zero":false},"axis":{"orient":"right","values":[-200,0,200,400,600,800,1000,1200],"tickSize":-10,"labels":false,"title":null}},
    "strokeDash":{"datum":"CH-2 Speed Ctrl Last:\u00a0\u00a0\u00a0166.67 mV","scale":{"domain":["CH-1 Speed Ctrl Last:\u00a0\u00a0\u00a0416.66 mV","CH-1 Readback\u00a0\u00a0Last:\u00a01053.00 mV","CH-2 Speed Ctrl Last:\u00a0\u00a0\u00a0166.67 mV","CH-2 Readback\u00a0\u00a0Last:\u00a0\u00a0\u00a0909.00 mV"],"range":[[1,0],[1.4,2.2],[7,5],[6,3,1.4,3]]}}
   }},
  {"data":{"values":[{"h":0,"v":1008},{"h":1.5,"v":1012},{"h":4.5,"v":998},{"h":7.5,"v":1015},{"h":10.5,"v":1000},{"h":13.5,"v":1010},{"h":16.5,"v":995},{"h":19.5,"v":1014},{"h":22.5,"v":1002},{"h":25.5,"v":1011},{"h":28.5,"v":996},{"h":31.5,"v":1016},{"h":34.5,"v":1000},{"h":37.5,"v":1012},{"h":40.5,"v":997},{"h":43.5,"v":1013},{"h":46.5,"v":1001},{"h":49.5,"v":1010},{"h":52.5,"v":995},{"h":55.5,"v":1014},{"h":58.5,"v":1000},{"h":61.5,"v":1012},{"h":64.5,"v":998},{"h":67.5,"v":1015},{"h":70.5,"v":1002},{"h":73.5,"v":1010},{"h":76.5,"v":996},{"h":79.5,"v":1013},{"h":82.5,"v":1001},{"h":85.5,"v":1012},{"h":88.5,"v":997},{"h":91.5,"v":1014},{"h":94.5,"v":1000},{"h":97.5,"v":1011},{"h":100.5,"v":995},{"h":103.5,"v":1013},{"h":106.5,"v":999},{"h":109.5,"v":1010},{"h":112.5,"v":996},{"h":115.5,"v":1008},{"h":118.5,"v":998},{"h":121.5,"v":1006},{"h":124.5,"v":998},{"h":127.5,"v":1008},{"h":130.5,"v":1000},{"h":133.5,"v":1010},{"h":136.5,"v":1003},{"h":139.5,"v":1012},{"h":142.5,"v":1006},{"h":145.5,"v":1018},{"h":147.2,"v":1020},{"h":147.4,"v":895},{"h":149,"v":880},{"h":150.5,"v":900},{"h":152,"v":885},{"h":153.5,"v":898},{"h":155,"v":878},{"h":156.5,"v":896},{"h":158,"v":884},{"h":159.5,"v":902},{"h":161,"v":888},{"h":162.5,"v":899},{"h":164,"v":886},{"h":165.5,"v":905},{"h":167,"v":895},{"h":168,"v":909}]},
   "mark":"line",
   "encoding":{
    "x":{"field":"h","type":"quantitative","scale":{"domain":[0,192],"range":[96,576],"nice":false},"axis":{"orient":"top","values":[12,24,36,60,72,84,108,120,132,156,168,180],"tickSize":-5,"labels":false,"domain":false,"title":null}},
    "y":{"field":"v","type":"quantitative","scale":{"domain":[-200,1200],"range":[408,48],"nice":false,"zero":false},"axis":{"orient":"right","tickCount":28,"tickSize":-5,"labels":false,"domain":false,"title":null}},
    "strokeDash":{"datum":"CH-2 Readback\u00a0\u00a0Last:\u00a0\u00a0\u00a0909.00 mV","scale":{"domain":["CH-1 Speed Ctrl Last:\u00a0\u00a0\u00a0416.66 mV","CH-1 Readback\u00a0\u00a0Last:\u00a01053.00 mV","CH-2 Speed Ctrl Last:\u00a0\u00a0\u00a0166.67 mV","CH-2 Readback\u00a0\u00a0Last:\u00a0\u00a0\u00a0909.00 mV"],"range":[[1,0],[1.4,2.2],[7,5],[6,3,1.4,3]]}}
   }}
 ]}],"spacing":0,"bounds":"flush","resolve":{"scale":{"strokeDash":"independent"},"legend":{"strokeDash":"independent"}}},

{"width":1,"height":489,"data":{"values":[]},"mark":"point"},
{"hconcat":[{"width":68,"height":2,"data":{"values":[]},"mark":"point"},{"width":1105,"height":2,"view":{"fill":"#5a5a5a"},"data":{"values":[]},"mark":"point"}],"spacing":0,"bounds":"flush"},
{"width":1,"height":10,"data":{"values":[]},"mark":"point"},
{"hconcat":[{"width":68,"height":2,"data":{"values":[]},"mark":"point"},{"width":1105,"height":2,"view":{"fill":"#5a5a5a"},"data":{"values":[]},"mark":"point"}],"spacing":0,"bounds":"flush"},
{"width":1,"height":27,"data":{"values":[]},"mark":"point"},
{"hconcat":[
 {"width":303,"height":1,"data":{"values":[]},"mark":"point"},
 {"width":44.4,"height":1,"title":{"text":"Go to:","anchor":"start","font":"Liberation Serif","fontSize":16,"color":"black","offset":-1.5,"dx":0},"data":{"values":[]},"mark":"point"},
 {"width":152.9,"height":1,"view":{"fill":"#551A8B"},"title":{"text":"NIRC2 One-day Temps","anchor":"start","font":"Liberation Serif","fontSize":16,"color":"#551A8B","offset":-1.5,"dx":0},"data":{"values":[]},"mark":"point"},
 {"width":13.3,"height":1,"title":{"text":"-","anchor":"middle","font":"Liberation Serif","fontSize":16,"color":"black","offset":-1.5,"dx":0},"data":{"values":[]},"mark":"point"},
 {"width":132.4,"height":1,"view":{"fill":"#0000EE"},"title":{"text":"NIRC2 Home Page","anchor":"start","font":"Liberation Serif","fontSize":16,"color":"#0000EE","offset":-1.5,"dx":0},"data":{"values":[]},"mark":"point"},
 {"width":13.3,"height":1,"title":{"text":"-","anchor":"middle","font":"Liberation Serif","fontSize":16,"color":"black","offset":-1.5,"dx":0},"data":{"values":[]},"mark":"point"},
 {"width":153.8,"height":1,"view":{"fill":"#551A8B"},"title":{"text":"Instruments Home Page","anchor":"start","font":"Liberation Serif","fontSize":16,"color":"#551A8B","offset":-1.5,"dx":0},"data":{"values":[]},"mark":"point"},
 {"width":13.3,"height":1,"title":{"text":"-","anchor":"middle","font":"Liberation Serif","fontSize":16,"color":"black","offset":-1.5,"dx":0},"data":{"values":[]},"mark":"point"},
 {"width":112,"height":1,"view":{"fill":"#0000EE"},"title":{"text":"Keck Home Page","anchor":"start","font":"Liberation Serif","fontSize":16,"color":"#0000EE","offset":-1.5,"dx":0},"data":{"values":[]},"mark":"point"}
],"spacing":0,"bounds":"flush"},
{"width":1,"height":11,"data":{"values":[]},"mark":"point"},
{"hconcat":[{"width":68,"height":2,"data":{"values":[]},"mark":"point"},{"width":1105,"height":2,"view":{"fill":"#5a5a5a"},"data":{"values":[]},"mark":"point"}],"spacing":0,"bounds":"flush"},
{"width":1,"height":27,"data":{"values":[]},"mark":"point"},
{"hconcat":[
 {"width":68,"height":1,"data":{"values":[]},"mark":"point"},
 {"width":68,"height":1,"view":{"fill":"#0000EE"},"title":{"text":"Instrument","anchor":"start","font":"Liberation Serif","fontSize":16,"fontStyle":"italic","color":"#0000EE","offset":-1.5,"dx":0},"data":{"values":[]},"mark":"point"}
],"spacing":0,"bounds":"flush"},
{"width":1,"height":18.5,"data":{"values":[]},"mark":"point"},
{"hconcat":[
 {"width":68,"height":1,"data":{"values":[]},"mark":"point"},
 {"width":1105,"height":1,"title":{"text":"Last modified: Wed Aug 24 20:31:41 HST","anchor":"start","font":"Liberation Serif","fontSize":16,"color":"black","offset":-1.5,"dx":0},"data":{"values":[]},"mark":"point"}
],"spacing":0,"bounds":"flush"},
{"width":1,"height":9.5,"data":{"values":[]},"mark":"point"}
],
"config":{
 "background":"#A6CAF0",
 "view":{"stroke":null},
 "line":{"color":"black","strokeWidth":1.4},
 "axis":{"grid":false,"domainColor":"#000","tickColor":"#000","domainWidth":1,"tickWidth":1,"labelFont":"DejaVu Sans","labelColor":"#1a1a1a","titleFont":"DejaVu Sans","titleColor":"#1a1a1a","titleFontWeight":"normal"},
 "axisBottom":{"offset":-72},
 "axisTop":{"offset":-48},
 "axisLeft":{"offset":-96},
 "axisRight":{"offset":-64},
 "legend":{"orient":"none","legendX":125,"symbolType":"stroke","symbolSize":8100,"symbolStrokeWidth":1.4,"symbolStrokeColor":"black","labelFont":"DejaVu Sans","labelFontSize":17.5,"labelColor":"#1a1a1a","labelOffset":12,"labelLimit":700,"clipHeight":18,"rowPadding":0,"padding":1,"fillColor":"white"},
 "title":{"font":"DejaVu Sans","fontSize":15.5,"fontWeight":"normal","color":"#1a1a1a","lineHeight":14.5,"offset":-42,"dx":16,"anchor":"middle","frame":"group"}
}
}
